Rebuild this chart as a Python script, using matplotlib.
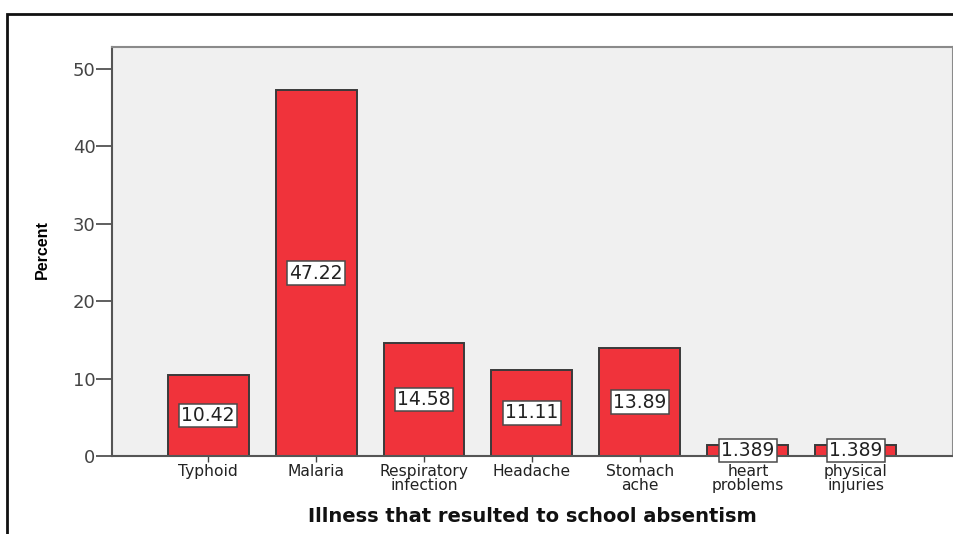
import matplotlib
matplotlib.use("Agg")
import matplotlib.pyplot as plt
from matplotlib.patches import Rectangle
import numpy as np

categories = ["Typhoid", "Malaria", "Respiratory\ninfection", "Headache",
              "Stomach\nache", "heart\nproblems", "physical\ninjuries"]
percent = [10.42, 47.22, 14.58, 11.11, 13.89, 1.389, 1.389]
value_labels = ["10.42", "47.22", "14.58", "11.11", "13.89", "1.389", "1.389"]
y_ticks = [0, 10, 20, 30, 40, 50]

plt.rcParams['font.family'] = ['DejaVu Sans']

W, H = 954, 534
fig = plt.figure(figsize=(W / 100, H / 100), dpi=100)
ax = fig.add_axes([112 / W, 1 - 456 / H, (953 - 112) / W, (456 - 47) / H])

ax.set_facecolor("#f0f0f0")
x = np.arange(len(categories))
ax.bar(x, percent, width=0.75, color="#f0333b", edgecolor="#3a3a3a",
       linewidth=1.4, zorder=2)

for xi, v, lab in zip(x, percent, value_labels):
    ax.text(xi, v / 2, lab, ha="center", va="center", fontsize=13.5,
            color="#222222", zorder=4,
            bbox=dict(boxstyle="square,pad=0.12", fc="white",
                      ec="#4a4a4a", lw=1.1))

ax.set_xlim(-0.89, 6.9)
ax.set_ylim(0, 52.8)
ax.set_yticks(y_ticks)
ax.set_yticklabels([str(t) for t in y_ticks], fontsize=13, color="#444444")
ax.set_xticks(x)
ax.set_xticklabels(categories, fontsize=11.2, color="#222222", linespacing=0.88)
ax.tick_params(axis="y", length=11.5, width=1.2, color="#444444", pad=0.5)
ax.tick_params(axis="x", length=4.5, width=1.0, color="#444444", pad=1.5)

for side in ["top", "right"]:
    ax.spines[side].set_color("#8a8a8a")
    ax.spines[side].set_linewidth(1.5)
for side in ["left", "bottom"]:
    ax.spines[side].set_color("#555555")
    ax.spines[side].set_linewidth(1.5)

fig.text(42 / W, 1 - 250 / H, "Percent", rotation=90, ha="center", va="center",
         fontsize=11.5, fontweight="bold",
         family=['Liberation Sans Narrow', 'Liberation Sans', 'DejaVu Sans'])
fig.text(532 / W, 1 - 516 / H, "Illness that resulted to school absentism",
         ha="center", va="center", fontsize=14, fontweight="bold",
         color="#111111")

# outer frame around the chart
frame = Rectangle((7.5 / W, -0.05), 1.2, 1 - 14 / H + 0.05,
                  transform=fig.transFigure, fill=False, ec="#111111",
                  lw=2.0, clip_on=False)
fig.add_artist(frame)

fig.savefig("out.png", dpi=100)
